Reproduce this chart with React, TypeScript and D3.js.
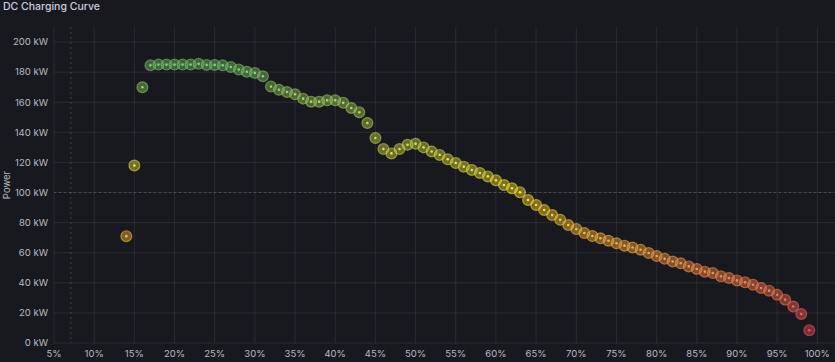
import React, { useMemo } from "react";
import * as d3 from "d3";

const WIDTH = 835;
const HEIGHT = 362;
const MARGIN = { top: 27, right: 0, bottom: 19, left: 54 };

const TITLE = "DC Charging Curve";
const Y_LABEL = "Power";

// state of charge (%) and charging power (kW)
const soc = [
  14, 15, 16, 17, 18, 19, 20, 21, 22, 23, 24, 25, 26, 27, 28, 29, 30, 31, 32, 33,
  34, 35, 36, 37, 38, 39, 40, 41, 42, 43, 44, 45, 46, 47, 48, 49, 50, 51, 52, 53,
  54, 55, 56, 57, 58, 59, 60, 61, 62, 63, 64, 65, 66, 67, 68, 69, 70, 71, 72, 73,
  74, 75, 76, 77, 78, 79, 80, 81, 82, 83, 84, 85, 86, 87, 88, 89, 90, 91, 92, 93,
  94, 95, 96, 97, 98, 99,
];
const power = [
  71, 118, 170, 184.5, 185, 185, 185, 185, 185, 185.5, 184.8, 184.8, 184.5, 183.4, 181.7, 180.3, 179.5, 177.3, 170.4, 168.3,
  166.8, 165.3, 162.4, 160.4, 160.4, 161.3, 161.3, 159.6, 156.2, 153.3, 146.2, 136.2, 128.9, 126, 128.9, 131.7, 132.4, 130, 127.3, 125,
  122.1, 119.6, 117.2, 115, 113, 110.7, 108.1, 105, 102.8, 100.1, 95, 91.7, 88.4, 85, 81.9, 78.4, 75.7, 73.1, 71.1, 69.6,
  68, 66.3, 64.7, 63.5, 62, 59.8, 57.8, 56, 54.2, 53, 50.9, 49.2, 47.4, 46.5, 44.3, 43.2, 41.6, 40.3, 38.7, 36.6,
  34.8, 32.1, 28.8, 24.3, 19.3, 8.4,
];

const xTicks = [5, 10, 15, 20, 25, 30, 35, 40, 45, 50, 55, 60, 65, 70, 75, 80, 85, 90, 95, 100];
const yTicks = [0, 20, 40, 60, 80, 100, 120, 140, 160, 180, 200];

// hover crosshair position seen in the screenshot
const cursor = { soc: 7.1, power: 100 };

const FONT = "Inter, 'Noto Sans', sans-serif";
const TEXT = "#b9bbc4";
const GRID = "rgba(204, 204, 220, 0.1)";

const App = () => {
  const x = useMemo(
    () => d3.scaleLinear().domain([5, 102.2]).range([MARGIN.left, WIDTH - MARGIN.right]),
    []
  );
  const y = useMemo(
    () => d3.scaleLinear().domain([0, 210]).range([HEIGHT - MARGIN.bottom, MARGIN.top]),
    []
  );
  const color = useMemo(() => {
    const lo = d3.min(power) as number;
    const hi = d3.max(power) as number;
    return d3
      .scaleLinear<string>()
      .domain([lo, (lo + hi) / 2, hi])
      .range(["#f2495c", "#fade2a", "#73bf69"])
      .interpolate(d3.interpolateRgb);
  }, []);

  const points = soc.map((s, i) => ({ s, p: power[i] }));

  return (
    <svg
      width={WIDTH}
      height={HEIGHT}
      style={{ position: "absolute", left: 0, top: 0, display: "block", background: "#18191f" }}
    >
      <text x={3} y={10} fontFamily={FONT} fontSize={10.5} fontWeight={500} fill="#ccccdc">
        {TITLE}
      </text>

      {/* grid */}
      {yTicks.map((t) => (
        <line key={"gy" + t} x1={MARGIN.left} x2={WIDTH} y1={y(t)} y2={y(t)} stroke={GRID} />
      ))}
      <line x1={MARGIN.left} x2={MARGIN.left} y1={MARGIN.top} y2={y(0)} stroke={GRID} />
      {xTicks.slice(1).map((t) => (
        <line key={"gx" + t} x1={x(t)} x2={x(t)} y1={MARGIN.top} y2={y(0)} stroke={GRID} />
      ))}

      {/* crosshair */}
      <line
        x1={x(cursor.soc)}
        x2={x(cursor.soc)}
        y1={MARGIN.top}
        y2={y(0)}
        stroke="rgba(204,204,220,0.22)"
        strokeDasharray="2 3"
      />
      <line
        x1={MARGIN.left}
        x2={WIDTH}
        y1={y(cursor.power)}
        y2={y(cursor.power)}
        stroke="rgba(204,204,220,0.22)"
        strokeDasharray="2 3"
      />

      {/* axes labels */}
      {yTicks.map((t) => (
        <text
          key={"yl" + t}
          x={MARGIN.left - 6}
          y={y(t)}
          dy="0.35em"
          textAnchor="end"
          fontFamily={FONT}
          fontSize={9.5}
          fill={TEXT}
        >
          {`${t} kW`}
        </text>
      ))}
      {xTicks.map((t) => (
        <text
          key={"xl" + t}
          x={x(t)}
          y={HEIGHT - 5}
          textAnchor="middle"
          fontFamily={FONT}
          fontSize={9.5}
          fill={TEXT}
        >
          {`${t}%`}
        </text>
      ))}
      <text
        transform={`translate(10, ${(MARGIN.top + y(0)) / 2}) rotate(-90)`}
        textAnchor="middle"
        fontFamily={FONT}
        fontSize={9.5}
        fill={TEXT}
      >
        {Y_LABEL}
      </text>

      {/* points */}
      {points.map((d) => {
        const c = color(d.p);
        return (
          <g key={d.s} transform={`translate(${x(d.s)}, ${y(d.p)})`}>
            <circle r={5.4} fill={c} fillOpacity={0.45} stroke={c} strokeOpacity={0.6} strokeWidth={1.2} />
            <circle r={1.3} fill={d3.color(c)!.brighter(0.5).formatHex()} fillOpacity={0.85} />
          </g>
        );
      })}
    </svg>
  );
};

export default App;
